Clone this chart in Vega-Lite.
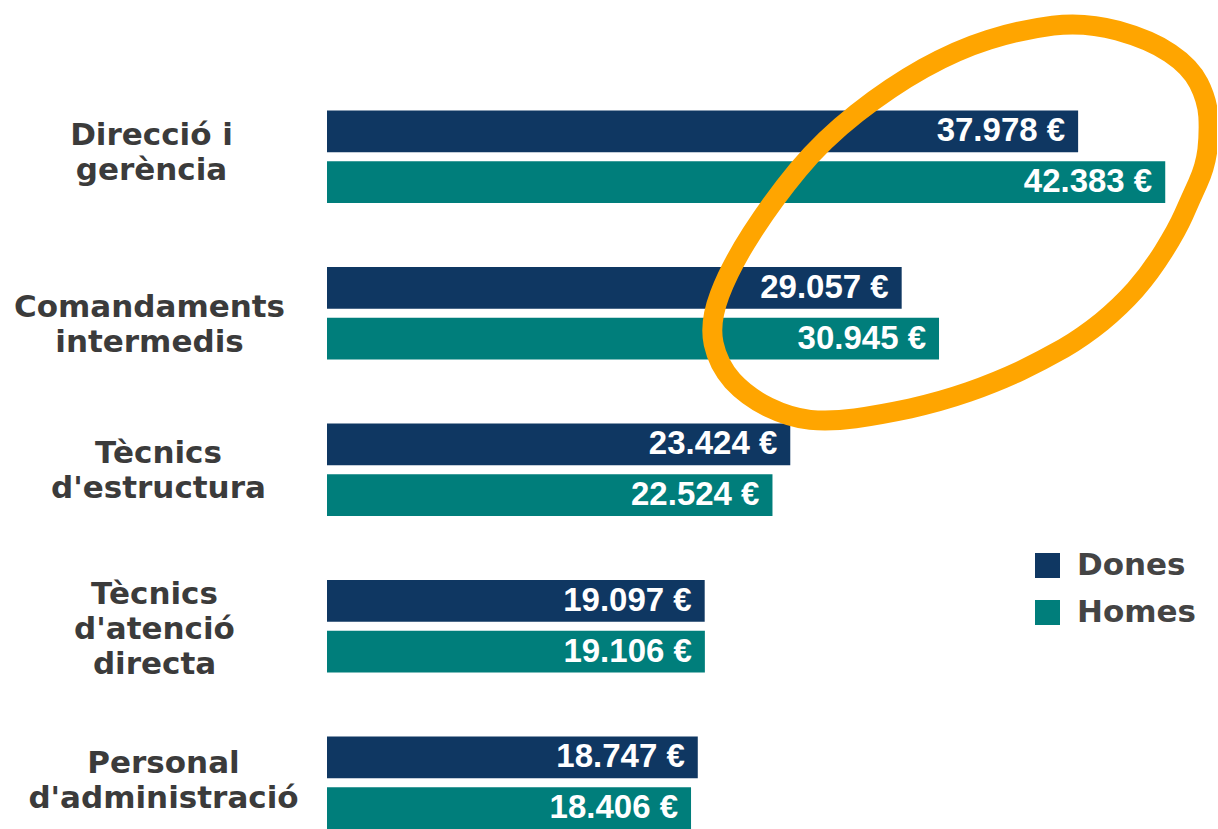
{
  "$schema": "https://vega.github.io/schema/vega-lite/v6.json",
  "width": 890,
  "height": 829,
  "autosize": {"type": "none"},
  "padding": {"left": 327, "top": 0, "right": 0, "bottom": 0},
  "background": "white",
  "config": {
    "view": {"stroke": null},
    "locale": {"number": {"decimal": ",", "thousands": ".", "grouping": [3], "currency": ["", " €"]}}
  },
  "datasets": {
    "pay": [
      {"category": "Direcció i|gerència", "series": "Dones", "value": 37978},
      {"category": "Direcció i|gerència", "series": "Homes", "value": 42383},
      {"category": "Comandaments|intermedis", "series": "Dones", "value": 29057},
      {"category": "Comandaments|intermedis", "series": "Homes", "value": 30945},
      {"category": "Tècnics|d'estructura", "series": "Dones", "value": 23424},
      {"category": "Tècnics|d'estructura", "series": "Homes", "value": 22524},
      {"category": "Tècnics|d'atenció|directa", "series": "Dones", "value": 19097},
      {"category": "Tècnics|d'atenció|directa", "series": "Homes", "value": 19106},
      {"category": "Personal|d'administració", "series": "Dones", "value": 18747},
      {"category": "Personal|d'administració", "series": "Homes", "value": 18406}
    ],
    "note": [
      {"category": "Direcció i|gerència", "value": 31866}
    ]
  },
  "layer": [
    {
      "data": {"name": "pay"},
      "mark": {"type": "bar"},
      "encoding": {
        "y": {
          "field": "category", "type": "nominal",
          "scale": {
            "domain": ["Direcció i|gerència", "Comandaments|intermedis", "Tècnics|d'estructura", "Tècnics|d'atenció|directa", "Personal|d'administració"],
            "paddingInner": 0.409, "paddingOuter": 0.353, "align": 1
          },
          "axis": {
            "title": null, "domain": false, "ticks": false,
            "labelExpr": "split(datum.value, '|')",
            "labelAlign": "center", "labelBaseline": "middle",
            "labelPadding": {
              "condition": [
                {"test": "indexof(datum.value, 'Direcció') === 0", "value": 176},
                {"test": "indexof(datum.value, 'Comandaments') === 0", "value": 178},
                {"test": "indexof(datum.value, 'estructura') > 0", "value": 169},
                {"test": "indexof(datum.value, 'Personal') === 0", "value": 164}
              ],
              "value": 173
            },
            "labelOffset": {
              "condition": [
                {"test": "indexof(datum.value, 'Direcció') === 0", "value": -21},
                {"test": "indexof(datum.value, 'Comandaments') === 0", "value": -5},
                {"test": "indexof(datum.value, 'estructura') > 0", "value": -16},
                {"test": "indexof(datum.value, 'Personal') === 0", "value": -19}
              ],
              "value": -31
            },
            "labelFont": "DejaVu Sans", "labelFontWeight": "bold", "labelFontSize": 31,
            "labelColor": "#3b3b3b", "labelLineHeight": 35, "labelLimit": 0
          }
        },
        "yOffset": {"field": "series", "type": "nominal", "scale": {"domain": ["Dones", "Homes"], "paddingInner": 0.176, "paddingOuter": 0}},
        "x": {"field": "value", "type": "quantitative", "scale": {"domain": [0, 45000]}, "axis": null},
        "color": {
          "field": "series", "type": "nominal",
          "scale": {"domain": ["Dones", "Homes"], "range": ["#0f3762", "#007e7b"]},
          "legend": {
            "title": null, "orient": "none", "legendX": 705, "legendY": 550,
            "symbolType": "square", "symbolSize": 625, "symbolStrokeWidth": 0,
            "labelFont": "DejaVu Sans", "labelFontWeight": "bold", "labelFontSize": 31,
            "labelColor": "#444444", "labelOffset": 14, "rowPadding": 15, "padding": 0,
            "encode": {"symbols": {"update": {"fill": {"signal": "datum.label === 'Homes' ? '#247a87' : '#0f3762'"}}}}
          }
        }
      }
    },
    {
      "data": {"name": "pay"},
      "mark": {"type": "text", "align": "right", "baseline": "middle", "dx": -13, "color": "white", "font": "Liberation Sans", "fontWeight": "bold", "fontSize": 33},
      "encoding": {
        "y": {"field": "category", "type": "nominal"},
        "yOffset": {"field": "series", "type": "nominal"},
        "x": {"field": "value", "type": "quantitative"},
        "text": {"field": "value", "type": "quantitative", "format": "$,d"}
      }
    },
    {
      "data": {"name": "note"},
      "mark": {
        "type": "point",
        "shape": "M0.319,-0.437Q0.427,-0.450,0.535,-0.420Q0.643,-0.390,0.710,-0.345Q0.777,-0.300,0.805,-0.245Q0.833,-0.190,0.837,-0.135Q0.840,-0.080,0.834,-0.024Q0.827,0.033,0.802,0.088Q0.777,0.143,0.755,0.193Q0.733,0.243,0.688,0.315Q0.643,0.387,0.593,0.444Q0.543,0.500,0.482,0.550Q0.420,0.600,0.354,0.639Q0.287,0.677,0.210,0.714Q0.133,0.750,0.038,0.784Q-0.057,0.817,-0.157,0.839Q-0.257,0.860,-0.340,0.872Q-0.423,0.883,-0.490,0.877Q-0.557,0.870,-0.629,0.835Q-0.700,0.800,-0.749,0.747Q-0.797,0.693,-0.812,0.623Q-0.827,0.553,-0.792,0.460Q-0.757,0.367,-0.685,0.255Q-0.613,0.143,-0.530,0.043Q-0.447,-0.057,-0.335,-0.145Q-0.223,-0.233,-0.112,-0.295Q0.000,-0.357,0.105,-0.390Q0.210,-0.423,0.319,-0.437Z",
        "size": 360000, "filled": false, "color": "#ffa500", "strokeWidth": 20, "strokeJoin": "round", "opacity": 1
      },
      "encoding": {
        "y": {"field": "category", "type": "nominal"},
        "x": {"field": "value", "type": "quantitative"}
      }
    }
  ]
}
